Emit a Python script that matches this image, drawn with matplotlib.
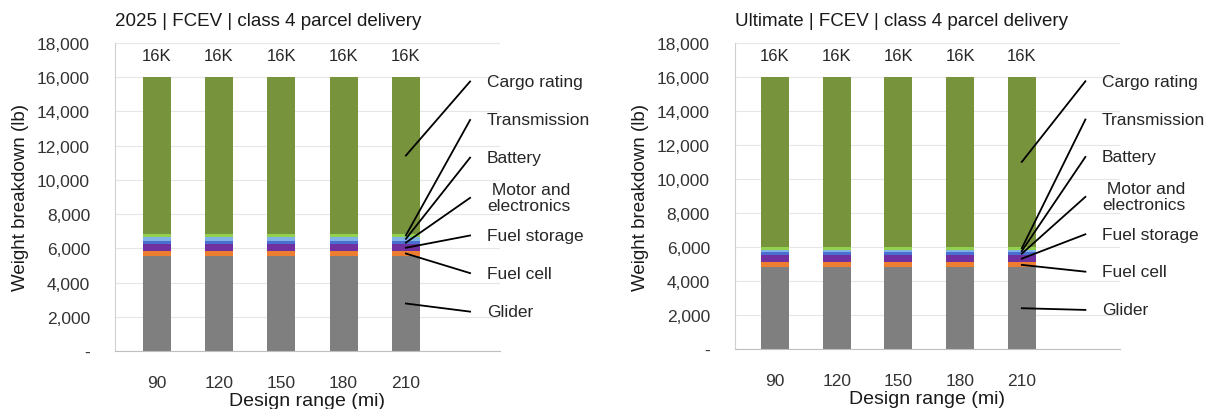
import numpy as np
import matplotlib
matplotlib.use("Agg")
from matplotlib import pyplot as plt

plt.rcParams['font.family'] = ['Liberation Sans', 'DejaVu Sans']

# design ranges (mi)
ranges = ["90", "120", "150", "180", "210"]

# layer names, bottom to top
layers = ["Glider", "Fuel cell", "Fuel storage", " Motor and\nelectronics",
          "Battery", "Transmission", "Cargo rating"]
colors = ["#7f7f7f", "#ed7d31", "#7030a0", "#4a6fd0", "#7fb2e5", "#92d050", "#77933c"]

# weights (lb) per layer, same for every design range
w_2025 = [5550, 290, 385, 215, 230, 175, 9155]
w_ult = [4800, 300, 430, 160, 150, 175, 9985]

titles = ["2025 | FCEV | class 4 parcel delivery",
          "Ultimate | FCEV | class 4 parcel delivery"]

# label y positions (data units) on the right side, bottom to top
label_y = [2300, 4550, 6750, 8950, 11300, 13500, 15750]


def panel(ax, weights, title, xlim):
    x = np.arange(len(ranges))
    bottom = np.zeros(len(ranges))
    mids = []
    for w, c in zip(weights, colors):
        vals = np.full(len(ranges), w, dtype=float)
        ax.bar(x, vals, bottom=bottom, width=0.45, color=c, zorder=2)
        mids.append(bottom[-1] + w / 2)
        bottom = bottom + vals

    for xi, tot in zip(x, bottom):
        ax.text(xi, tot + 1250, "%dK" % round(tot / 1000), ha='center', va='center',
                fontsize=12, color='#262626')

    # leader lines + labels
    for name, m, ly in zip(layers, mids, label_y):
        ax.plot([x[-1], x[-1] + 1.03], [m, ly], color='black', lw=1.3, clip_on=False, zorder=3)
        ax.text(x[-1] + 1.3, ly, name, va='center', ha='left', fontsize=12.5,
                linespacing=1.1, color='#262626')

    ax.set_xlim(*xlim)
    ax.set_ylim(0, 18000)
    ax.set_yticks(np.arange(0, 18001, 2000))
    ax.set_yticklabels(["-"] + ["{:,}".format(v) for v in range(2000, 18001, 2000)])
    ax.set_xticks(x)
    ax.set_xticklabels(ranges)
    ax.tick_params(axis='both', length=0, labelsize=12.5, labelcolor='#333333')
    ax.tick_params(axis='y', pad=18)
    ax.tick_params(axis='x', pad=17)
    ax.grid(axis='y', color='#e6e6e6', lw=0.8, zorder=0)
    for s in ['top', 'right']:
        ax.spines[s].set_visible(False)
    ax.spines['left'].set_color('#d0d0d0')
    ax.spines['bottom'].set_color('#bfbfbf')
    ax.set_ylabel("Weight breakdown (lb)", fontsize=13.5, labelpad=6, color='#1a1a1a')
    ax.set_xlabel("Design range (mi)", fontsize=14, labelpad=2, color='#1a1a1a')
    ax.set_title(title, loc='left', fontsize=13.5, pad=13, color='#1a1a1a')


fig = plt.figure(figsize=(12.08, 4.10), dpi=100)
ax1 = fig.add_axes([0.0952, 0.1415, 0.3187, 0.7512])
ax2 = fig.add_axes([0.6084, 0.1463, 0.3187, 0.7463])
panel(ax1, w_2025, titles[0], (-0.669, 5.51))
panel(ax2, w_ult, titles[1], (-0.648, 5.59))

fig.savefig("out.png", dpi=100)
